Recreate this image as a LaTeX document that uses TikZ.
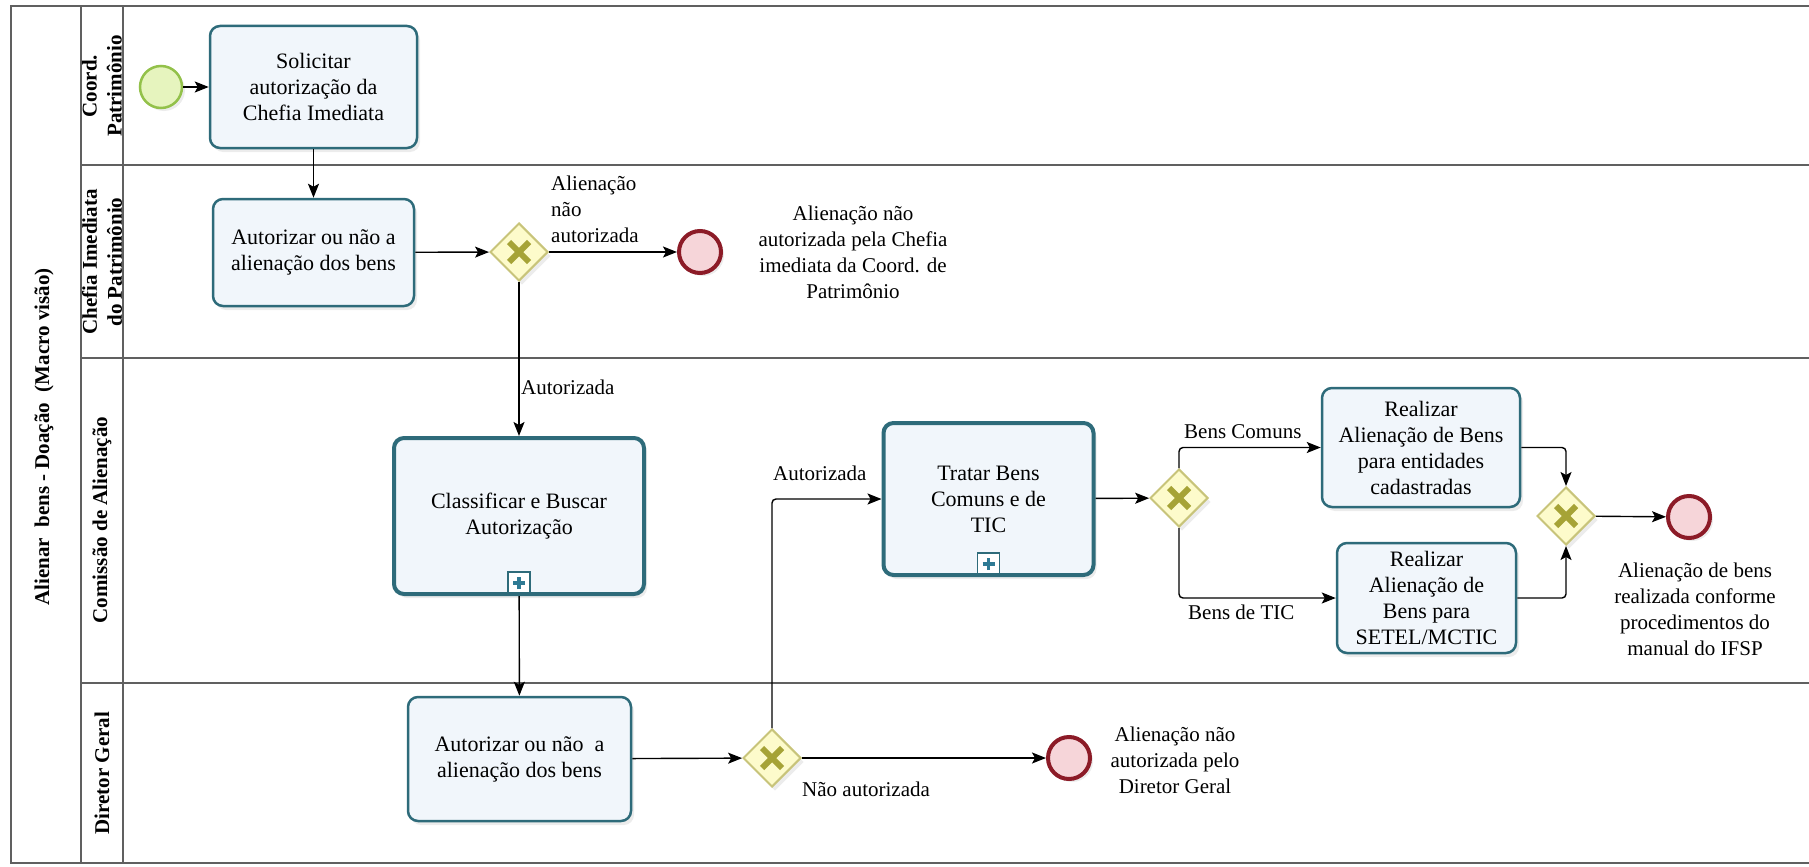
\documentclass[tikz,border=0pt]{standalone}
\usepackage{fontspec}
\setmainfont{Liberation Serif}
\usetikzlibrary{arrows.meta, positioning, shapes.geometric, calc, shadows}

\definecolor{taskline}{HTML}{2E6B7A}
\definecolor{taskfill}{HTML}{F1F6FB}
\definecolor{plusc}{HTML}{2E7A94}
\definecolor{gwline}{HTML}{C8C47A}
\definecolor{gwfill}{HTML}{FDFBCB}
\definecolor{gwx}{HTML}{A6A336}
\definecolor{startline}{HTML}{93C14A}
\definecolor{startfill}{HTML}{E6F4BE}
\definecolor{endline}{HTML}{8C1B27}
\definecolor{endfill}{HTML}{F6D5D9}
\definecolor{poolline}{HTML}{606060}

\begin{document}
\begin{tikzpicture}[x=1pt, y=-1pt,
    every node/.style={font=\rmfamily\fontsize{21}{26}\selectfont},
    pool/.style={draw=poolline, line width=1.3pt},
    lanetxt/.style={font=\rmfamily\bfseries\fontsize{21}{25}\selectfont, align=center, rotate=90},
    task/.style={draw=taskline, line width=2.5pt, fill=taskfill, rounded corners=10pt,
        align=center, inner sep=0pt, font=\rmfamily\fontsize{22}{26}\selectfont,
        drop shadow={opacity=0.15, shadow xshift=3pt, shadow yshift=-4pt}},
    subproc/.style={task, line width=4pt, path picture={
        \draw[draw=taskline, line width=1.5pt, fill=white, sharp corners]
            ([xshift=-11pt]path picture bounding box.south) rectangle ([xshift=11pt, yshift=22pt]path picture bounding box.south);
        \draw[plusc, line width=3.5pt, sharp corners]
            ([yshift=5pt]path picture bounding box.south) -- ([yshift=17pt]path picture bounding box.south);
        \draw[plusc, line width=3.5pt, sharp corners]
            ([xshift=-6pt, yshift=11pt]path picture bounding box.south) -- ([xshift=6pt, yshift=11pt]path picture bounding box.south);
    }},
    gateway/.style={diamond, draw=gwline, fill=gwfill, line width=2pt, aspect=1,
        minimum width=58pt, minimum height=58pt, inner sep=0pt,
        drop shadow={opacity=0.15, shadow xshift=3pt, shadow yshift=-4pt},
        path picture={
        \draw[gwx, line width=6pt, sharp corners]
            ([shift={(-10pt,-10pt)}]path picture bounding box.center) -- ([shift={(10pt,10pt)}]path picture bounding box.center);
        \draw[gwx, line width=6pt, sharp corners]
            ([shift={(-10pt,10pt)}]path picture bounding box.center) -- ([shift={(10pt,-10pt)}]path picture bounding box.center);
    }},
    startev/.style={circle, draw=startline, fill=startfill, line width=2.5pt, minimum size=42pt, inner sep=0pt,
        drop shadow={opacity=0.15, shadow xshift=3pt, shadow yshift=-3pt}},
    endev/.style={circle, draw=endline, fill=endfill, line width=4pt, minimum size=42pt, inner sep=0pt,
        drop shadow={opacity=0.15, shadow xshift=3pt, shadow yshift=-3pt}},
    lbl/.style={inner sep=0pt},
    flow/.style={-{Stealth[length=14pt, width=11pt, inset=3pt]}, line width=1.4pt, rounded corners=4pt}
]
    \useasboundingbox (0,0) rectangle (1809,867);

    % pool and lanes
    \draw[pool] (1809,6) -- (11,6) -- (11,863) -- (1809,863);
    \draw[pool] (81,6) -- (81,863);
    \draw[pool] (123,6) -- (123,863);
    \foreach \ly in {165,358,683}
        \draw[pool] (81,\ly) -- (1809,\ly);

    \node[lanetxt] (pooltitle) at (44,437) {Alienar\ \ bens - Doação\ \ (Macro visão)};
    \node[lanetxt] (laneA) at (102,86) {Coord.\\Patrimônio};
    \node[lanetxt] (laneB) at (102,262) {Chefia Imediata\\do Patrimônio};
    \node[lanetxt] (laneC) at (102,520) {Comissão de Alienação};
    \node[lanetxt] (laneD) at (102,773) {Diretor Geral};

    % events and tasks
    \node[startev] (start) at (161,87) {};
    \node[task, minimum width=207pt, minimum height=122pt] (solicitar) at (313.5,87) {Solicitar\\autorização da\\Chefia Imediata};
    \node[task, minimum width=201pt, minimum height=107pt] (autChefia) at (313.5,252.5) {Autorizar ou não a\\alienação dos bens};
    \node[gateway] (gwChefia) at (519,252) {};
    \node[endev] (endChefia) at (700,252) {};
    \node[subproc, minimum width=250pt, minimum height=156pt] (classificar) at (519,516) {Classificar e Buscar\\Autorização};
    \node[task, minimum width=223pt, minimum height=124pt] (autDiretor) at (519.5,759) {Autorizar ou não\ \ a\\alienação dos bens};
    \node[gateway] (gwDiretor) at (772,758) {};
    \node[endev] (endDiretor) at (1069,758) {};
    \node[subproc, minimum width=210pt, minimum height=152pt] (tratar) at (988.5,499) {Tratar Bens\\Comuns e de\\TIC};
    \node[gateway] (gwTipo) at (1179,498) {};
    \node[task, minimum width=198pt, minimum height=119pt] (realComuns) at (1421,447.5) {Realizar\\Alienação de Bens\\para entidades\\cadastradas};
    \node[task, minimum width=179pt, minimum height=110pt] (realTIC) at (1426.5,598) {Realizar\\Alienação de\\Bens para\\SETEL/MCTIC};
    \node[gateway] (gwFim) at (1566,516) {};
    \node[endev] (endFim) at (1689,517) {};

    % texts
    \node[lbl, anchor=north west, align=left] (txtNaoChefia) at (551,176) {Alienação\\não\\autorizada};
    \node[lbl, align=center] (txtEndChefia) at (853,252) {Alienação não\\autorizada pela Chefia\\imediata da Coord. de\\Patrimônio};
    \node[lbl, anchor=west] (txtAutChefia) at (521,387) {Autorizada};
    \node[lbl, anchor=west] (txtAutDiretor) at (773,473) {Autorizada};
    \node[lbl, anchor=west] (txtNaoDiretor) at (802,789) {Não autorizada};
    \node[lbl, align=center] (txtEndDiretor) at (1175,760) {Alienação não\\autorizada pelo\\Diretor Geral};
    \node[lbl, anchor=west] (txtComuns) at (1184,432) {Bens Comuns};
    \node[lbl, anchor=west] (txtTIC) at (1188,612) {Bens de TIC};
    \node[lbl, align=center] (txtEndFim) at (1695,609) {Alienação de bens\\realizada conforme\\procedimentos do\\manual do IFSP};

    % flows
    \draw[flow] (start) -- (solicitar);
    \draw[flow] (solicitar) -- (autChefia);
    \draw[flow] (autChefia) -- (gwChefia);
    \draw[flow] (gwChefia) -- (endChefia);
    \draw[flow] (gwChefia) -- (classificar);
    \draw[flow] (classificar) -- (autDiretor);
    \draw[flow] (autDiretor) -- (gwDiretor);
    \draw[flow] (gwDiretor) -- (endDiretor);
    \draw[flow] (gwDiretor.north) |- (tratar.west);
    \draw[flow] (tratar) -- (gwTipo);
    \draw[flow] (gwTipo.north) |- (realComuns.west);
    \draw[flow] (gwTipo.south) |- (realTIC.west);
    \draw[flow] (realComuns.east) -| (gwFim.north);
    \draw[flow] (realTIC.east) -| (gwFim.south);
    \draw[flow] (gwFim) -- (endFim);
\end{tikzpicture}
\end{document}
